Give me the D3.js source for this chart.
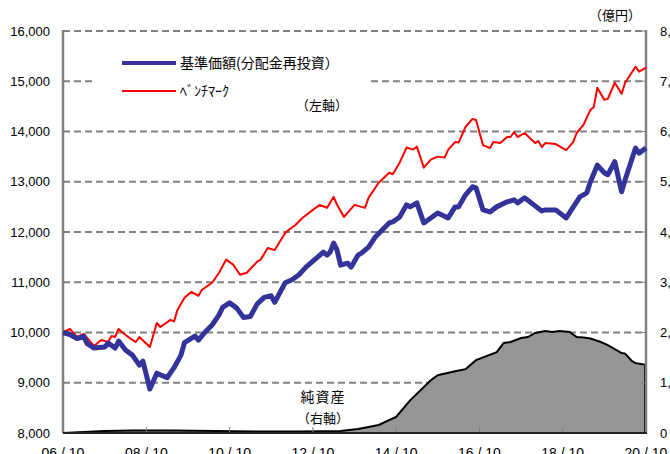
<!DOCTYPE html>
<html>
<head>
<meta charset="utf-8">
<script src="https://cdn.jsdelivr.net/npm/d3@7"></script>
<style>
  body { margin: 0; background: #fff; }
  svg { display: block; }
  text { font-family: "Liberation Sans", Arial, sans-serif; }
  .jp { font-family: "Noto Sans CJK JP", sans-serif; }
</style>
</head>
<body>
<svg id="chart" width="670" height="454"></svg>
<script>
// data (monthly, yyyy-mm)
const navDates = ["2006-10","2006-12","2007-02","2007-04","2007-05","2007-07","2007-10","2007-11","2008-01","2008-02","2008-04","2008-06","2008-08","2008-09","2008-11","2009-01","2009-04","2009-06","2009-08","2009-09","2009-12","2010-01","2010-03","2010-05","2010-07","2010-08","2010-10","2010-12","2011-02","2011-04","2011-06","2011-08","2011-10","2011-11","2012-02","2012-04","2012-06","2012-08","2012-11","2013-01","2013-02","2013-03","2013-04","2013-05","2013-06","2013-08","2013-09","2013-11","2013-12","2014-02","2014-04","2014-08","2014-09","2014-11","2015-01","2015-02","2015-04","2015-06","2015-08","2015-10","2016-01","2016-03","2016-04","2016-06","2016-08","2016-09","2016-11","2017-01","2017-03","2017-06","2017-08","2017-09","2017-11","2018-02","2018-04","2018-05","2018-08","2018-11","2019-03","2019-05","2019-06","2019-08","2019-10","2019-11","2020-01","2020-03","2020-04","2020-07","2020-08","2020-10"];
const navValues = [10000,9960,9880,9920,9780,9690,9710,9790,9690,9830,9650,9550,9350,9430,8875,9190,9100,9300,9550,9800,9930,9850,10010,10150,10350,10500,10590,10490,10300,10320,10570,10700,10730,10600,10990,11050,11150,11300,11480,11600,11540,11600,11780,11640,11340,11380,11300,11540,11580,11700,11900,12180,12200,12300,12540,12500,12580,12180,12280,12380,12280,12500,12500,12740,12900,12880,12440,12400,12500,12600,12640,12580,12680,12520,12420,12440,12440,12280,12700,12780,13000,13330,13180,13140,13400,12800,13040,13670,13570,13670];

const bmDates = ["2006-10","2006-12","2007-02","2007-04","2007-07","2007-09","2007-11","2007-12","2008-01","2008-02","2008-03","2008-05","2008-07","2008-08","2008-11","2009-01","2009-02","2009-05","2009-06","2009-07","2009-09","2009-11","2010-01","2010-02","2010-05","2010-07","2010-09","2010-11","2011-01","2011-03","2011-06","2011-07","2011-09","2011-11","2012-02","2012-03","2012-05","2012-07","2012-10","2012-12","2013-02","2013-03","2013-04","2013-05","2013-07","2013-08","2013-10","2014-01","2014-02","2014-05","2014-08","2014-09","2014-11","2015-01","2015-03","2015-04","2015-06","2015-08","2015-10","2015-12","2016-01","2016-03","2016-04","2016-06","2016-08","2016-09","2016-11","2017-01","2017-02","2017-04","2017-06","2017-07","2017-08","2017-09","2017-11","2018-02","2018-03","2018-04","2018-05","2018-08","2018-11","2019-01","2019-02","2019-04","2019-06","2019-07","2019-08","2019-10","2019-11","2020-01","2020-03","2020-04","2020-07","2020-08","2020-10"];
const bmValues = [10000,10070,9910,9970,9730,9850,9810,9930,9910,10070,10010,9900,9810,9910,9710,10190,10110,10250,10220,10450,10690,10810,10730,10850,10990,11190,11450,11350,11150,11190,11410,11450,11680,11640,11980,12040,12140,12280,12440,12540,12480,12580,12700,12540,12300,12380,12540,12480,12680,12980,13180,13150,13380,13680,13640,13700,13280,13440,13500,13480,13640,13790,13780,14090,14250,14230,13730,13670,13790,13770,13890,13890,13990,13890,13970,13770,13810,13690,13770,13750,13630,13790,13970,14130,14430,14490,14870,14630,14650,14970,14750,14970,15290,15190,15270];

// net assets (億円), right axis
const assetDates = ["2006-10","2007-04","2007-10","2008-06","2009-06","2010-06","2011-06","2012-06","2013-06","2013-11","2014-02","2014-05","2014-10","2015-02","2015-08","2015-10","2016-03","2016-06","2016-09","2016-12","2017-03","2017-05","2017-07","2017-10","2017-12","2018-02","2018-05","2018-07","2018-09","2018-12","2019-02","2019-04","2019-06","2019-09","2019-11","2020-01","2020-03","2020-04","2020-06","2020-07","2020-09","2020-10"];
const assetValues = [0,20,40,50,50,40,30,30,40,80,120,160,320,650,1050,1150,1230,1270,1450,1530,1610,1790,1810,1890,1910,1990,2030,2010,2030,2010,1910,1900,1880,1810,1750,1670,1590,1580,1430,1390,1370,1350];

const leftTicks = [8000,9000,10000,11000,12000,13000,14000,15000,16000];
const rightTicks = [0,1000,2000,3000,4000,5000,6000,7000,8000];
const xTickDates = ["2006-10","2008-10","2010-10","2012-10","2014-10","2016-10","2018-10","2020-10"];

const parse = d3.timeParse("%Y-%m");
const nav = navDates.map((d, i) => ({ date: parse(d), v: navValues[i] }));
const bm = bmDates.map((d, i) => ({ date: parse(d), v: bmValues[i] }));
const assets = assetDates.map((d, i) => ({ date: parse(d), v: assetValues[i] }));

const plotL = 63, plotR = 646, plotT = 31, plotB = 433;

const svg = d3.select("#chart");

const x = d3.scaleTime()
  .domain([parse("2006-10"), parse("2020-10")])
  .range([plotL, plotR]);
const yL = d3.scaleLinear().domain([8000, 16000]).range([plotB, plotT]);
const yR = d3.scaleLinear().domain([0, 8000]).range([plotB, plotT]);

// dashed gridlines
svg.append("g")
  .selectAll("line")
  .data(leftTicks.slice(1))
  .join("line")
    .attr("x1", plotL)
    .attr("x2", plotR)
    .attr("y1", d => yL(d))
    .attr("y2", d => yL(d))
    .attr("stroke", "#808080")
    .attr("stroke-width", 2)
    .attr("stroke-dasharray", "7,4");

// net assets area
const area = d3.area()
  .x(d => x(d.date))
  .y0(yR(0))
  .y1(d => yR(d.v));

svg.append("path")
  .datum(assets)
  .attr("d", area)
  .attr("fill", "#969696");

svg.append("path")
  .datum(assets)
  .attr("d", d3.line().x(d => x(d.date)).y(d => yR(d.v)))
  .attr("fill", "none")
  .attr("stroke", "#000")
  .attr("stroke-width", 2);

// right edge of the area
const lastA = assets[assets.length - 1];
svg.append("line")
  .attr("x1", x(lastA.date) - 1).attr("x2", x(lastA.date) - 1)
  .attr("y1", yR(lastA.v)).attr("y2", plotB)
  .attr("stroke", "#000").attr("stroke-width", 2);

// legend box covers gridlines
svg.append("rect")
  .attr("x", 93).attr("y", 40)
  .attr("width", 274).attr("height", 82)
  .attr("fill", "#fff");

// axes
svg.append("line")
  .attr("x1", plotL).attr("x2", plotL)
  .attr("y1", plotT - 1).attr("y2", plotB)
  .attr("stroke", "#808080").attr("stroke-width", 2.5);
svg.append("line")
  .attr("x1", plotR).attr("x2", plotR)
  .attr("y1", plotT - 1).attr("y2", plotB)
  .attr("stroke", "#808080").attr("stroke-width", 2.5);

// x ticks (inside)
svg.append("g")
  .selectAll("line")
  .data(xTickDates)
  .join("line")
    .attr("x1", d => x(parse(d)))
    .attr("x2", d => x(parse(d)))
    .attr("y1", plotB)
    .attr("y2", plotB - 6)
    .attr("stroke", "#808080")
    .attr("stroke-width", 1);

// right axis ticks (inside)
svg.append("g")
  .selectAll("line")
  .data(rightTicks)
  .join("line")
    .attr("x1", plotR - 5)
    .attr("x2", plotR)
    .attr("y1", d => yR(d))
    .attr("y2", d => yR(d))
    .attr("stroke", "#808080")
    .attr("stroke-width", 1);

svg.append("line")
  .attr("x1", plotL).attr("x2", plotR + 1)
  .attr("y1", plotB).attr("y2", plotB)
  .attr("stroke", "#222").attr("stroke-width", 2);

// lines
const line = d3.line()
  .x(d => x(d.date))
  .y(d => yL(d.v));

svg.append("path")
  .datum(bm)
  .attr("d", line)
  .attr("fill", "none")
  .attr("stroke", "#ff0000")
  .attr("stroke-width", 2)
  .attr("stroke-linejoin", "round");

svg.append("path")
  .datum(nav)
  .attr("d", line)
  .attr("fill", "none")
  .attr("stroke", "#333399")
  .attr("stroke-width", 5)
  .attr("stroke-linejoin", "round");

// tick labels
svg.append("g")
  .selectAll("text")
  .data(leftTicks)
  .join("text")
    .attr("x", 50)
    .attr("y", d => yL(d))
    .attr("dy", "0.36em")
    .attr("text-anchor", "end")
    .attr("font-size", 13)
    .text(d => d3.format(",")(d));

svg.append("g")
  .selectAll("text")
  .data(rightTicks)
  .join("text")
    .attr("x", 660)
    .attr("y", d => yR(d))
    .attr("dy", "0.36em")
    .attr("font-size", 13)
    .text(d => d3.format(",")(d));

svg.append("g")
  .selectAll("text")
  .data(xTickDates)
  .join("text")
    .attr("x", d => x(parse(d)))
    .attr("y", 458)
    .attr("text-anchor", "middle")
    .attr("font-size", 14)
    .text(d => d3.timeFormat("%y/%m")(parse(d)).replace("/", " / "));

// legend
svg.append("line")
  .attr("x1", 122).attr("x2", 176).attr("y1", 63).attr("y2", 63)
  .attr("stroke", "#333399").attr("stroke-width", 4);
svg.append("text").attr("class", "jp")
  .attr("x", 180).attr("y", 63).attr("dy", "0.35em")
  .attr("font-size", 14)
  .text("基準価額(分配金再投資）");

svg.append("line")
  .attr("x1", 122).attr("x2", 176).attr("y1", 91).attr("y2", 91)
  .attr("stroke", "#ff0000").attr("stroke-width", 2);
svg.append("text").attr("class", "jp")
  .attr("x", 180).attr("y", 91).attr("dy", "0.35em")
  .attr("font-size", 14)
  .text("ﾍﾞﾝﾁﾏｰｸ");

svg.append("text").attr("class", "jp")
  .attr("x", 322).attr("y", 105).attr("dy", "0.35em")
  .attr("text-anchor", "middle")
  .attr("font-size", 13)
  .text("（左軸）");

svg.append("text").attr("class", "jp")
  .attr("x", 615).attr("y", 15).attr("dy", "0.35em")
  .attr("text-anchor", "middle")
  .attr("font-size", 13)
  .text("（億円）");

svg.append("text").attr("class", "jp")
  .attr("x", 323).attr("y", 397).attr("dy", "0.35em")
  .attr("text-anchor", "middle")
  .attr("font-size", 14)
  .attr("letter-spacing", 1)
  .text("純資産");

svg.append("text").attr("class", "jp")
  .attr("x", 323).attr("y", 418).attr("dy", "0.35em")
  .attr("text-anchor", "middle")
  .attr("font-size", 13)
  .text("（右軸）");
</script>
</body>
</html>
